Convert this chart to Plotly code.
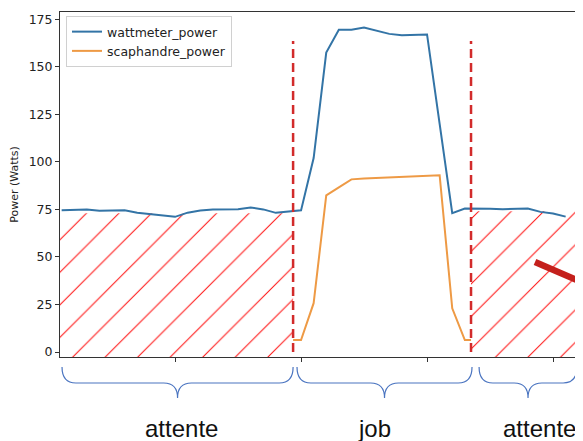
import plotly.graph_objects as go

# ---------------- data ----------------
sample_idx = list(range(1, 43))
wattmeter_power = [74.6, 74.8, 75.0, 74.3, 74.4, 74.6, 73.3, 72.6, 72.0, 71.1,
                   73.3, 74.4, 75.0, 75.1, 75.1, 76.0, 75.0, 73.2, 74.0, 74.5,
                   102.0, 157.5, 169.5, 169.5, 170.7, 169.0, 167.3, 166.6, 166.8, 167.0,
                   120.0, 73.0, 75.5, 75.5, 75.3, 75.1, 75.3, 75.5, 73.7, 72.9,
                   71.2]
scaphandre_power = [6.3, 6.3, 6.3, 6.3, 6.3, 6.3, 6.3, 6.3, 6.3, 6.3,
                    6.3, 6.3, 6.3, 6.3, 6.3, 6.3, 6.3, 6.3, 6.3, 6.3,
                    25.7, 82.4, 86.6, 90.8, 91.2, 91.5, 91.8, 92.1, 92.4, 92.6,
                    93.0, 23.0, 6.3, 6.3, 6.3, 6.3, 6.3, 6.3, 6.3, 6.3,
                    6.3, 6.3]

y_ticks = [0, 25, 50, 75, 100, 125, 150, 175]
x_ticks = [10, 20, 30, 40]

# phase boundaries (sample index units)
phase_edges = [0.87, 19.37, 33.49, 41.83]
hatch_tops = [73, None, 74]
dash_top = 163.5
brace_spans = [(1.03, 19.37), (19.68, 33.57), (34.13, 41.9)]
phase_labels = ["attente", "job", "attente"]
label_pos = [10.52, 25.79, 38.89]

x_range = [0.87, 42.06]
y_range = [-2.6, 178.8]

BLUE = "#3374a6"
ORANGE = "#ee9a45"
RED = "#d22b2b"

# the page body has an 8px margin: the figure is sized so it fills the window
PAGE_OFF = 8
FIG_W, FIG_H = 583 - PAGE_OFF, 441 - PAGE_OFF
PLOT_L, PLOT_R, PLOT_T, PLOT_B = 60, 579, 12, 357   # page pixels of plot box

fig = go.Figure()

# orange first (partly hidden by hatch boxes, as in the reference)
fig.add_trace(go.Scatter(x=sample_idx[:len(scaphandre_power)], y=scaphandre_power,
                         mode="lines", name="scaphandre_power",
                         line=dict(color=ORANGE, width=2), showlegend=False))

# hatched boxes
for i, top in enumerate(hatch_tops):
    if top is None:
        continue
    x0, x1 = phase_edges[i], phase_edges[i + 1]
    fig.add_trace(go.Scatter(
        x=[x0, x1, x1, x0, x0], y=[-6, -6, top, top, -6],
        mode="lines", fill="toself", line=dict(width=0, color="rgba(0,0,0,0)"),
        fillcolor="white",
        fillpattern=dict(shape="/", fgcolor="#ff1010", bgcolor="white",
                         size=23, solidity=0.045, fillmode="replace"),
        showlegend=False, hoverinfo="skip"))

fig.add_trace(go.Scatter(x=sample_idx[:len(wattmeter_power)], y=wattmeter_power,
                         mode="lines", name="wattmeter_power",
                         line=dict(color=BLUE, width=2)))
# legend proxy for orange (so it lists second)
fig.add_trace(go.Scatter(x=[None], y=[None], mode="lines", name="scaphandre_power",
                         line=dict(color=ORANGE, width=2)))

shapes = []
# red dashed separators
for xe in phase_edges[1:3]:
    shapes.append(dict(type="line", xref="x", yref="y", x0=xe, x1=xe, y0=0, y1=dash_top,
                       line=dict(color=RED, width=2.5, dash="9px,5px")))


def paper_y(py):
    return (PLOT_B - py) / (PLOT_B - PLOT_T)


def paper_x(px):
    return (px - PLOT_L) / (PLOT_R - PLOT_L)


# braces below the axis
yt, ym, yp = paper_y(367), paper_y(383), paper_y(398)
for (xa, xb) in brace_spans:
    xm = (xa + xb) / 2
    r = 1.1
    path = (f"M {xa},{yt} Q {xa},{ym} {xa + r},{ym} L {xm - r},{ym} "
            f"Q {xm},{ym} {xm},{yp} Q {xm},{ym} {xm + r},{ym} "
            f"L {xb - r},{ym} Q {xb},{ym} {xb},{yt}")
    shapes.append(dict(type="path", xref="x", yref="paper", path=path,
                       line=dict(color="#4a74c0", width=1.2)))

# thick red stroke at right (part of an arrow)
shapes.append(dict(type="line", xref="paper", yref="paper",
                   x0=paper_x(535), y0=paper_y(262),
                   x1=paper_x(600), y1=paper_y(290),
                   line=dict(color="#c4201c", width=6.5)))

annotations = []
for lab, xp in zip(phase_labels, label_pos):
    annotations.append(dict(text=lab, x=xp, y=paper_y(428), xref="x", yref="paper",
                            showarrow=False, xanchor="center", yanchor="middle",
                            font=dict(family="Liberation Sans, Arial", size=24, color="#111")))

fig.update_layout(
    width=FIG_W, height=FIG_H,
    margin=dict(l=PLOT_L - PAGE_OFF, r=FIG_W - (PLOT_R - PAGE_OFF),
                t=PLOT_T - PAGE_OFF, b=FIG_H - (PLOT_B - PAGE_OFF)),
    paper_bgcolor="white", plot_bgcolor="white",
    shapes=shapes, annotations=annotations,
    font=dict(family="DejaVu Sans", size=12, color="#222"),
    legend=dict(x=paper_x(66), y=paper_y(16), xanchor="left", yanchor="top",
                bgcolor="white", bordercolor="#d0d0d0", borderwidth=1,
                font=dict(size=12.5), tracegroupgap=0, itemwidth=30),
    xaxis=dict(range=x_range, tickvals=x_ticks, showticklabels=False, ticks="outside",
               ticklen=4, tickcolor="#333", showline=True, linecolor="#333", linewidth=1,
               mirror=True, showgrid=False, zeroline=False, automargin=False),
    yaxis=dict(range=y_range, tickvals=y_ticks, ticks="outside", ticklen=4,
               tickcolor="#333", showline=True, linecolor="#333", linewidth=1,
               mirror=True, showgrid=False, zeroline=False, automargin=False,
               title=dict(text="Power (Watts)", font=dict(size=11), standoff=8),
               tickfont=dict(size=12.5)),
)

fig.write_html("out.html")
